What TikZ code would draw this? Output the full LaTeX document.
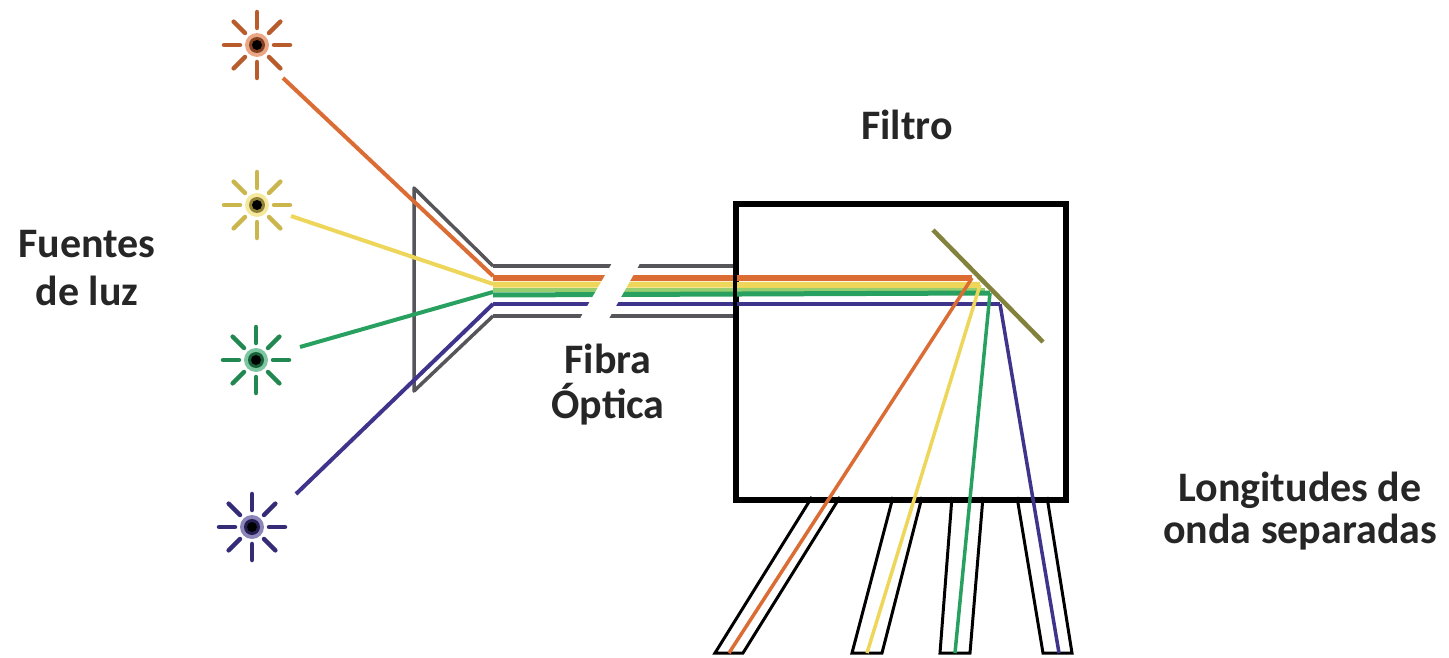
\documentclass[tikz,border=0pt]{standalone}
\usepackage{fontspec}
\setmainfont{Carlito}
\begin{document}
\definecolor{ink}{RGB}{38,38,38}
\definecolor{beamorange}{RGB}{218,108,52}
\definecolor{beamyellow}{RGB}{238,214,90}
\definecolor{beamlgreen}{RGB}{150,205,110}
\definecolor{beamgreen}{RGB}{40,160,95}
\definecolor{beamblue}{RGB}{62,52,140}
\definecolor{frame}{RGB}{85,85,90}
\definecolor{mirror}{RGB}{130,130,60}
\begin{tikzpicture}[x=1pt,y=-1pt,
  label/.style={font=\bfseries\fontsize{42}{#1}\selectfont, text=ink, align=center, inner sep=0pt, anchor=base},
  funnel/.style={draw=frame, line width=3.5pt, line join=round},
  beam/.style={line width=#1},
  tube/.style={draw=black, line width=3pt, line join=miter},
  boxline/.style={draw=black, line width=3.8pt},
  pics/lamp/.style={code={
    \foreach \a in {0,45,...,315}
      \draw[line width=4.5pt, #1!85!black, line cap=round] (\a:17) -- (\a:33);
    \fill[#1!60] (0,0) circle (12);
    \fill[#1!60!black] (0,0) circle (8);
    \fill[black] (0,0) circle (5);
  }}]
\useasboundingbox (0,0) rectangle (1449,658);

% light sources
\coordinate (s1) at (257,45);
\coordinate (s2) at (257,205);
\coordinate (s3) at (256,360);
\coordinate (s4) at (252,527);
\pic at (s1) {lamp=beamorange};
\pic at (s2) {lamp=beamyellow};
\pic at (s3) {lamp=beamgreen};
\pic at (s4) {lamp=beamblue};

% coupler funnel
\coordinate (fTop) at (414,188);
\coordinate (fBot) at (414,391);
\coordinate (fIn1) at (493,266);
\coordinate (fIn2) at (493,316);
\draw[funnel] (fIn1) -- (fTop) -- (fBot) -- (fIn2);

% rays from the sources into the coupler
\coordinate (r1a) at (283,78);  \coordinate (r1b) at (493,276);
\coordinate (r2a) at (291,216); \coordinate (r2b) at (493,284);
\coordinate (r3a) at (300,347); \coordinate (r3b) at (493,292);
\coordinate (r4a) at (296,494); \coordinate (r4b) at (493,304);
\draw[beam=4pt, beamorange] (r1a) -- (r1b);
\draw[beam=4pt, beamyellow] (r2a) -- (r2b);
\draw[beam=4pt, beamgreen] (r3a) -- (r3b);
\draw[beam=4pt, beamblue] (r4a) -- (r4b);

% filter housing
\node[boxline, minimum width=328pt, minimum height=294pt, anchor=north west, inner sep=0pt] (box) at (735,203) {};

% fibre jacket and colour bands
\draw[funnel] (fIn1) -- (735,266);
\draw[funnel] (fIn2) -- (735,316);
\coordinate (hO) at (972,278);
\coordinate (hY) at (980,285);
\coordinate (hG) at (990,293);
\coordinate (hB) at (1000,304);
\draw[beam=6.5pt, beamorange] (493,278) -- (hO);
\draw[beam=6pt, beamyellow] (493,284.5) -- (hY);
\draw[beam=4pt, beamlgreen] (493,290) -- (985,290);
\draw[beam=5pt, beamgreen] (493,295) -- (hG);
\draw[beam=4.5pt, beamblue] (493,304) -- (hB);

% break in the fibre
\fill[white] (615,258) -- (643,258) -- (607,322) -- (578,322) -- cycle;

% redraw housing edge over the bands
\draw[boxline] (box.north west) rectangle (box.south east);

% dichroic mirror
\coordinate (m1) at (933,230);
\coordinate (m2) at (1043,342);
\draw[mirror, line width=4.5pt] (m1) -- (m2);

% output tubes
\coordinate (t1a) at (812,497); \coordinate (t1b) at (715,653); \coordinate (t1c) at (743,653); \coordinate (t1d) at (840,497);
\coordinate (t2a) at (893,497); \coordinate (t2b) at (852,653); \coordinate (t2c) at (882,653); \coordinate (t2d) at (922,497);
\coordinate (t3a) at (952,497); \coordinate (t3b) at (940,653); \coordinate (t3c) at (970,653); \coordinate (t3d) at (983,497);
\coordinate (t4a) at (1017,497); \coordinate (t4b) at (1043,653); \coordinate (t4c) at (1072,653); \coordinate (t4d) at (1047,497);
\foreach \t in {1,2,3,4}
  \draw[tube] (t\t a) -- (t\t b) -- (t\t c) -- (t\t d);

% separated wavelengths
\coordinate (oO) at (729,653);
\coordinate (oY) at (867,653);
\coordinate (oG) at (955,653);
\coordinate (oB) at (1059,653);
\draw[beam=3.5pt, beamorange] (hO) -- (oO);
\draw[beam=3.5pt, beamyellow] (hY) -- (oY);
\draw[beam=3.5pt, beamgreen] (hG) -- (oG);
\draw[beam=3.5pt, beamblue] (hB) -- (oB);

% labels (anchored at the baseline of the last line)
\node[label=48] (lsrc) at (87,305) {Fuentes\\de luz};
\node[label=46] (lfil) at (907,140) {Filtro};
\node[label=45] (lfib) at (608,418) {Fibra\\Óptica};
\node[label=42] (lout) at (1300,543) {Longitudes de\\onda separadas};
\end{tikzpicture}
\end{document}
